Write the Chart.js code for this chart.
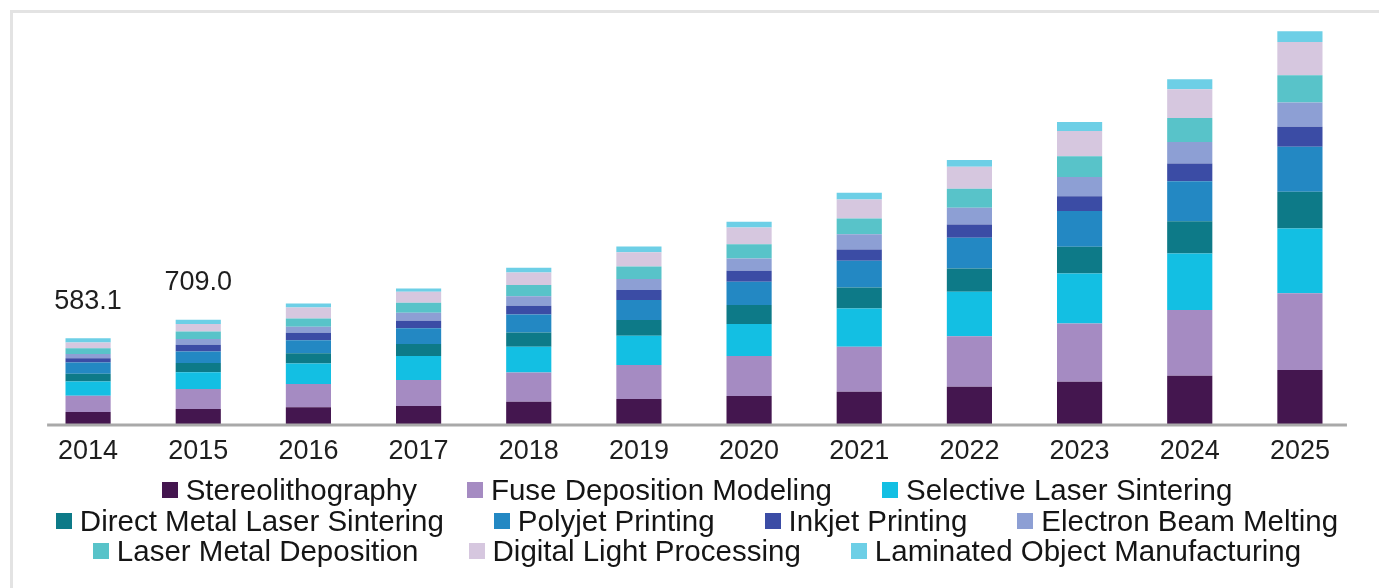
<!DOCTYPE html>
<html><head><meta charset="utf-8">
<script src="https://cdn.jsdelivr.net/npm/chart.js@4.4.0/dist/chart.umd.min.js"></script>
<style>
html,body{margin:0;padding:0;background:#fff;width:1379px;height:588px;overflow:hidden;font-family:"Liberation Sans",Arial,sans-serif;}
#frame{position:absolute;left:10px;top:10px;right:0;bottom:0;border-left:3px solid #e3e3e3;border-top:3px solid #e3e3e3;}
#wrap{position:absolute;left:0;top:0;width:1379px;height:588px;}
#legend{position:absolute;left:17px;top:475px;width:1360px;display:flex;flex-wrap:wrap;justify-content:center;column-gap:50px;font-size:29.5px;line-height:30.5px;color:#151515;}
.item{display:flex;align-items:center;white-space:nowrap;}
.box{width:16px;height:16px;margin-right:8px;flex:none;}
</style></head><body>
<div id="frame"></div>
<div id="wrap"><canvas id="c"></canvas></div>
<div id="legend"></div>
<script>
const years = ['2014','2015','2016','2017','2018','2019','2020','2021','2022','2023','2024','2025'];
const stereolithography      = [81, 102, 113, 122, 151, 170, 190, 219, 253, 287, 328, 367];
const fuseDepositionModeling = [111, 136, 158, 177, 199, 231, 272, 306, 344, 396, 446, 521];
const selectiveLaserSintering= [97, 113, 141, 163, 175, 199, 217, 260, 301, 340, 385, 441];
const directMetalLaserSint   = [52, 63, 68, 81, 97, 107, 129, 143, 158, 181, 219, 249];
const polyjetPrinting        = [77, 79, 90, 107, 122, 136, 158, 181, 210, 244, 272, 306];
const inkjetPrinting         = [29, 45, 50, 52, 59, 68, 75, 77, 90, 100, 120, 136];
const electronBeamMelting    = [29, 39, 41, 54, 66, 75, 84, 104, 113, 131, 147, 165];
const laserMetalDeposition   = [39, 52, 56, 68, 75, 84, 97, 107, 129, 141, 163, 185];
const digitalLightProcessing = [39, 50, 75, 75, 86, 97, 113, 129, 151, 172, 195, 226];
const laminatedObjectManuf   = [29.1, 30, 27, 22, 32, 39, 39, 45, 45, 61, 68, 73];
const labelledYears = ['2014', '2015'];

const seriesNames = ['Stereolithography','Fuse Deposition Modeling','Selective Laser Sintering','Direct Metal Laser Sintering','Polyjet Printing','Inkjet Printing','Electron Beam Melting','Laser Metal Deposition','Digital Light Processing','Laminated Object Manufacturing'];
const seriesValues = [stereolithography, fuseDepositionModeling, selectiveLaserSintering, directMetalLaserSint, polyjetPrinting, inkjetPrinting, electronBeamMelting, laserMetalDeposition, digitalLightProcessing, laminatedObjectManuf];
const seriesColors = ['#44164f','#a58bc2','#13bfe3','#0d7a88','#2388c3','#3b4ca5','#8d9fd4','#58c3c9','#d6c7df','#6dcfe6'];

const FONT = '"Liberation Sans", Arial, sans-serif';

const extras = {
  id: 'extras',
  afterDatasetsDraw(chart) {
    const ctx = chart.ctx;
    const x = chart.scales.x, y = chart.scales.y;
    const step = x.getPixelForValue(1) - x.getPixelForValue(0);
    ctx.save();
    ctx.strokeStyle = '#a9a9a9';
    ctx.lineWidth = 3;
    ctx.beginPath();
    ctx.moveTo(x.getPixelForValue(0) - 0.372 * step, chart.chartArea.bottom + 1);
    ctx.lineTo(x.getPixelForValue(years.length - 1) + 0.427 * step, chart.chartArea.bottom + 1);
    ctx.stroke();
    ctx.fillStyle = '#1e1e1e';
    ctx.font = '27px ' + FONT;
    ctx.textAlign = 'center';
    ctx.textBaseline = 'middle';
    years.forEach((yr, i) => {
      if (!labelledYears.includes(yr)) return;
      const total = seriesValues.reduce((s, arr) => s + arr[i], 0);
      ctx.fillText(total.toFixed(1), x.getPixelForValue(i), y.getPixelForValue(total) - 37);
    });
    ctx.restore();
  }
};

new Chart(document.getElementById('c'), {
  type: 'bar',
  data: {
    labels: years,
    datasets: seriesNames.map((n, k) => ({
      label: n, data: seriesValues[k], backgroundColor: seriesColors[k],
      borderWidth: 0, barPercentage: 0.41, categoryPercentage: 1
    }))
  },
  options: {
    responsive: true, maintainAspectRatio: false, animation: false,
    layout: { padding: { left: 33, right: 24, top: 12, bottom: 124 } },
    plugins: { legend: { display: false }, tooltip: { enabled: false } },
    scales: {
      x: {
        stacked: true,
        grid: { display: false, drawTicks: false },
        border: { display: false },
        ticks: { color: '#1e1e1e', font: { family: FONT, size: 27 }, padding: 11, maxRotation: 0 },
        afterFit(s) { s.height = 40; }
      },
      y: {
        stacked: true, display: false, min: 0, max: 2800
      }
    }
  },
  plugins: [extras]
});

const lg = document.getElementById('legend');
seriesNames.forEach((n, k) => {
  const it = document.createElement('div'); it.className = 'item';
  const b = document.createElement('span'); b.className = 'box'; b.style.background = seriesColors[k];
  const t = document.createElement('span'); t.textContent = n;
  it.appendChild(b); it.appendChild(t); lg.appendChild(it);
});
</script>
</body></html>
